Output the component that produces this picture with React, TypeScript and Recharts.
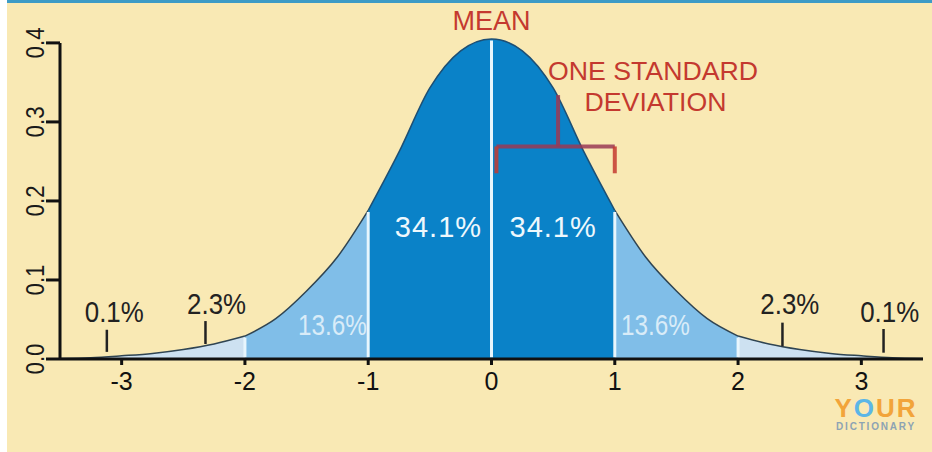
import { useEffect } from "react";
import {
  ComposedChart,
  Area,
  XAxis,
  YAxis,
  ReferenceLine,
  ReferenceDot,
} from "recharts";

const FONT = '"Liberation Sans", Arial, Helvetica, sans-serif';

// z-scores sampled along the bell curve
const zValues = [
  -3.5, -3.25, -3, -2.75, -2.5, -2.25, -2, -1.75, -1.5, -1.25, -1, -0.75, -0.5,
  -0.25, 0, 0.25, 0.5, 0.75, 1, 1.25, 1.5, 1.75, 2, 2.25, 2.5, 2.75, 3, 3.25,
  3.5,
];
// curve height as drawn in the picture
const density = [
  0.0005, 0.0015, 0.004, 0.007, 0.012, 0.019, 0.029, 0.051, 0.086, 0.129,
  0.188, 0.262, 0.343, 0.39, 0.405, 0.39, 0.343, 0.262, 0.188, 0.129, 0.086,
  0.051, 0.029, 0.019, 0.012, 0.007, 0.004, 0.0015, 0.0005,
];

const xTicks = [-3, -2, -1, 0, 1, 2, 3];
const yTicks = [0, 0.1, 0.2, 0.3, 0.4];
const dividers = [-2, -1, 0, 1, 2];

const shareLabels = ["0.1%", "2.3%", "13.6%", "34.1%", "34.1%", "13.6%", "2.3%", "0.1%"];
const shareX = [-3.06, -2.23, -1.29, -0.43, 0.5, 1.33, 2.42, 3.23];
const shareY = [0.047, 0.057, 0.03, 0.154, 0.154, 0.03, 0.057, 0.047];

// little pointer marks under the tail labels
const pointerX = [-3.12, -2.32, 2.36, 3.18];
const pointerTop = [0.037, 0.048, 0.046, 0.038];
const pointerBottom = [0.009, 0.019, 0.016, 0.008];

// "one standard deviation" bracket
const bracketLeft = 0.04;
const bracketRight = 1.0;
const bracketY = 0.269;
const bracketFoot = 0.235;
const stemX = 0.54;
const stemTop = 0.334;

const RED = "#c4392f";

const data = zValues.map((z, i) => {
  const d = density[i];
  const a = Math.abs(z);
  return {
    z,
    center: a <= 1 ? d : null,
    side: a >= 1 && a <= 2 ? d : null,
    tail: a >= 2 ? d : null,
  };
});

const heightAt = (z: number) => density[zValues.indexOf(z)];

const labelStyle = (text: string) => {
  if (text === "34.1%") return { fill: "#eef8fd", fontSize: 29, letterSpacing: 1 };
  if (text === "13.6%") return { fill: "#d9ecf8", fontSize: 30, textLength: 69 };
  return { fill: "#222", fontSize: 30, textLength: 59 };
};

const textShape =
  (text: string, props: Record<string, any>) => (p: any) =>
    (
      <text
        x={p.cx}
        y={p.cy}
        textAnchor="middle"
        fontFamily={FONT}
        lengthAdjust="spacingAndGlyphs"
        {...props}
      >
        {text}
      </text>
    );

const YTick = (props: any) => {
  const { x, y, payload } = props;
  return (
    <text
      x={x}
      y={y}
      transform={`rotate(-90, ${x}, ${y})`}
      textAnchor="middle"
      fill="#1a1a1a"
      fontSize={25}
      fontFamily={FONT}
      textLength={31}
      lengthAdjust="spacingAndGlyphs"
    >
      {Number(payload.value).toFixed(1)}
    </text>
  );
};

export default function App() {
  useEffect(() => {
    document.body.style.margin = "0";
  }, []);

  const bracket = [
    [{ x: bracketLeft, y: bracketY }, { x: bracketRight, y: bracketY }],
    [{ x: bracketLeft, y: bracketFoot }, { x: bracketLeft, y: bracketY }],
    [{ x: bracketRight, y: bracketFoot }, { x: bracketRight, y: bracketY }],
    [{ x: stemX, y: bracketY }, { x: stemX, y: stemTop }],
  ];

  return (
    <div
      style={{
        position: "relative",
        width: 932,
        height: 452,
        background: "#f9e9b4",
        overflow: "hidden",
        fontFamily: FONT,
      }}
    >
      <div style={{ position: "absolute", left: 0, top: 0, width: 932, height: 3, background: "#3d9bc6" }} />
      <div style={{ position: "absolute", left: 0, top: 0, width: 7, height: 452, background: "#fff" }} />

      <ComposedChart
        width={932}
        height={452}
        data={data}
        margin={{ top: 35, right: 9, bottom: 53, left: 10 }}
      >
        <XAxis
          type="number"
          dataKey="z"
          domain={[-3.5, 3.5]}
          ticks={xTicks}
          interval={0}
          axisLine={{ stroke: "#111", strokeWidth: 3 }}
          tickLine={{ stroke: "#111", strokeWidth: 3 }}
          tickSize={6}
          tickMargin={7}
          tick={{ fill: "#111", fontSize: 25, fontFamily: FONT }}
          height={40}
        />
        <YAxis
          type="number"
          domain={[0, 0.41]}
          ticks={yTicks}
          interval={0}
          axisLine={false}
          tickLine={{ stroke: "#111", strokeWidth: 3 }}
          tickSize={14}
          tick={<YTick />}
          width={50}
        />

        <Area
          dataKey="tail"
          type="monotone"
          fill="#cde1f1"
          fillOpacity={1}
          stroke="#2f4452"
          strokeWidth={1.5}
          isAnimationActive={false}
        />
        <Area
          dataKey="side"
          type="monotone"
          fill="#80bee8"
          fillOpacity={1}
          stroke="#2f4452"
          strokeWidth={1.5}
          isAnimationActive={false}
        />
        <Area
          dataKey="center"
          type="monotone"
          fill="#0a82c8"
          fillOpacity={1}
          stroke="#1d4f74"
          strokeWidth={1.5}
          isAnimationActive={false}
        />

        {/* y axis line stops at the 0.4 tick */}
        <ReferenceLine
          segment={[
            { x: -3.5, y: 0 },
            { x: -3.5, y: 0.4 },
          ]}
          stroke="#111"
          strokeWidth={3}
          ifOverflow="visible"
        />

        {dividers.map((z) => (
          <ReferenceLine
            key={`div${z}`}
            segment={[
              { x: z, y: 0.002 },
              { x: z, y: heightAt(z) - 0.002 },
            ]}
            stroke="#e8f6fd"
            strokeWidth={3}
            ifOverflow="visible"
          />
        ))}

        {pointerX.map((z, i) => (
          <ReferenceLine
            key={`ptr${i}`}
            segment={[
              { x: z, y: pointerBottom[i] },
              { x: z, y: pointerTop[i] },
            ]}
            stroke="#222"
            strokeWidth={2.5}
            ifOverflow="visible"
          />
        ))}

        {bracket.map((seg, i) => (
          <ReferenceLine
            key={`br${i}`}
            segment={seg}
            stroke={i === 0 || i === 3 ? "#9a3a55" : RED}
            strokeOpacity={0.85}
            strokeWidth={4}
            ifOverflow="visible"
          />
        ))}

        {shareLabels.map((t, i) => (
          <ReferenceDot
            key={`lab${i}`}
            x={shareX[i]}
            y={shareY[i]}
            ifOverflow="visible"
            shape={textShape(t, labelStyle(t))}
          />
        ))}

        <ReferenceDot
          x={0}
          y={0.416}
          ifOverflow="visible"
          shape={textShape("MEAN", { fill: RED, fontSize: 27 })}
        />
        <ReferenceDot
          x={1.31}
          y={0.353}
          ifOverflow="visible"
          shape={textShape("ONE STANDARD", { fill: RED, fontSize: 25, textLength: 210 })}
        />
        <ReferenceDot
          x={1.33}
          y={0.314}
          ifOverflow="visible"
          shape={textShape("DEVIATION", { fill: RED, fontSize: 25, textLength: 142 })}
        />
      </ComposedChart>

      <div
        style={{
          position: "absolute",
          left: 828,
          top: 395,
          width: 96,
          textAlign: "center",
          lineHeight: 1,
        }}
      >
        <div style={{ fontSize: 26, fontWeight: 700, color: "#f2a43a", letterSpacing: 2 }}>
          Y<span style={{ color: "#5cb6e6" }}>O</span>UR
        </div>
        <div style={{ fontSize: 10, fontWeight: 700, color: "#8da3b3", letterSpacing: 1.8, marginTop: 1 }}>
          DICTIONARY
        </div>
      </div>
    </div>
  );
}
